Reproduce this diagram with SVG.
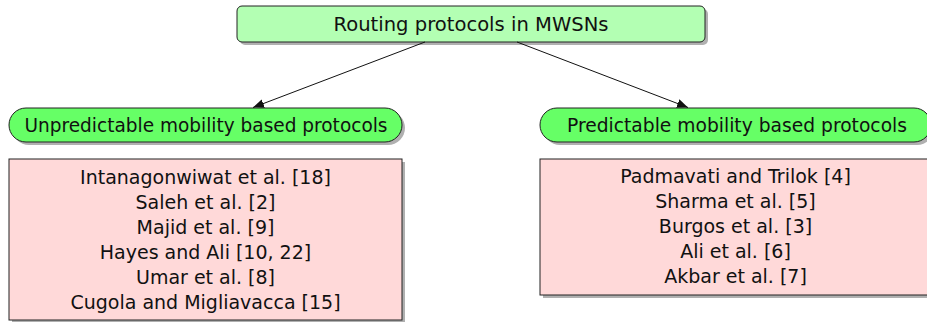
<svg xmlns="http://www.w3.org/2000/svg" width="927" height="322" viewBox="0 0 927 322">
<style>
text{font-family:"DejaVu Sans","Liberation Sans",sans-serif;font-size:19px;fill:#111;text-anchor:middle;dominant-baseline:central}
.sh{fill:#b0b0b0}
.root{fill:#b3ffb3;stroke:#222;stroke-width:1}
.cat{fill:#66ff66;stroke:#222;stroke-width:1}
.list{fill:#ffd9d9;stroke:#222;stroke-width:1}
.edge{stroke:#111;stroke-width:1;fill:none;marker-end:url(#ah)}
</style>
<defs>
<marker id="ah" viewBox="0 0 11 10" refX="11" refY="5" markerWidth="11" markerHeight="10" markerUnits="userSpaceOnUse" orient="auto">
<path d="M0,0.5 L11,5 L0,9.5 Z" fill="#111"/>
</marker>
</defs>
<g id="root">
<rect class="sh" x="240" y="9" width="468" height="36" rx="5"/>
<rect class="root" x="237" y="6" width="468" height="36" rx="5"/>
<text x="471" y="24" textLength="275" lengthAdjust="spacingAndGlyphs">Routing protocols in MWSNs</text>
</g>
<g id="unpredictable">
<rect class="sh" x="12" y="111" width="393" height="34" rx="17"/>
<rect class="cat" x="9" y="108" width="393" height="34" rx="17"/>
<text x="206" y="125" textLength="363" lengthAdjust="spacingAndGlyphs">Unpredictable mobility based protocols</text>
</g>
<g id="predictable">
<rect class="sh" x="543" y="111" width="391" height="34" rx="17"/>
<rect class="cat" x="540" y="108" width="391" height="34" rx="17"/>
<text x="737" y="125" textLength="340" lengthAdjust="spacingAndGlyphs">Predictable mobility based protocols</text>
</g>
<g id="unpredictable-list">
<rect class="sh" x="12" y="162" width="393" height="164"/>
<rect class="list" x="9" y="159" width="393" height="161"/>
<text x="205.5" y="177">Intanagonwiwat et al. [18]</text>
<text x="205.5" y="202">Saleh et al. [2]</text>
<text x="205.5" y="227">Majid et al. [9]</text>
<text x="205.5" y="252">Hayes and Ali [10, 22]</text>
<text x="205.5" y="277">Umar et al. [8]</text>
<text x="205.5" y="302">Cugola and Migliavacca [15]</text>
</g>
<g id="predictable-list">
<rect class="sh" x="543" y="162" width="391" height="136"/>
<rect class="list" x="540" y="159" width="391" height="136"/>
<text x="735.5" y="176">Padmavati and Trilok [4]</text>
<text x="735.5" y="201">Sharma et al. [5]</text>
<text x="735.5" y="226">Burgos et al. [3]</text>
<text x="735.5" y="251">Ali et al. [6]</text>
<text x="735.5" y="276">Akbar et al. [7]</text>
</g>
<g id="connectors">
<line class="edge" x1="425" y1="42" x2="253" y2="107.5"/>
<line class="edge" x1="517" y1="42" x2="688" y2="107.5"/>
</g>
</svg>
